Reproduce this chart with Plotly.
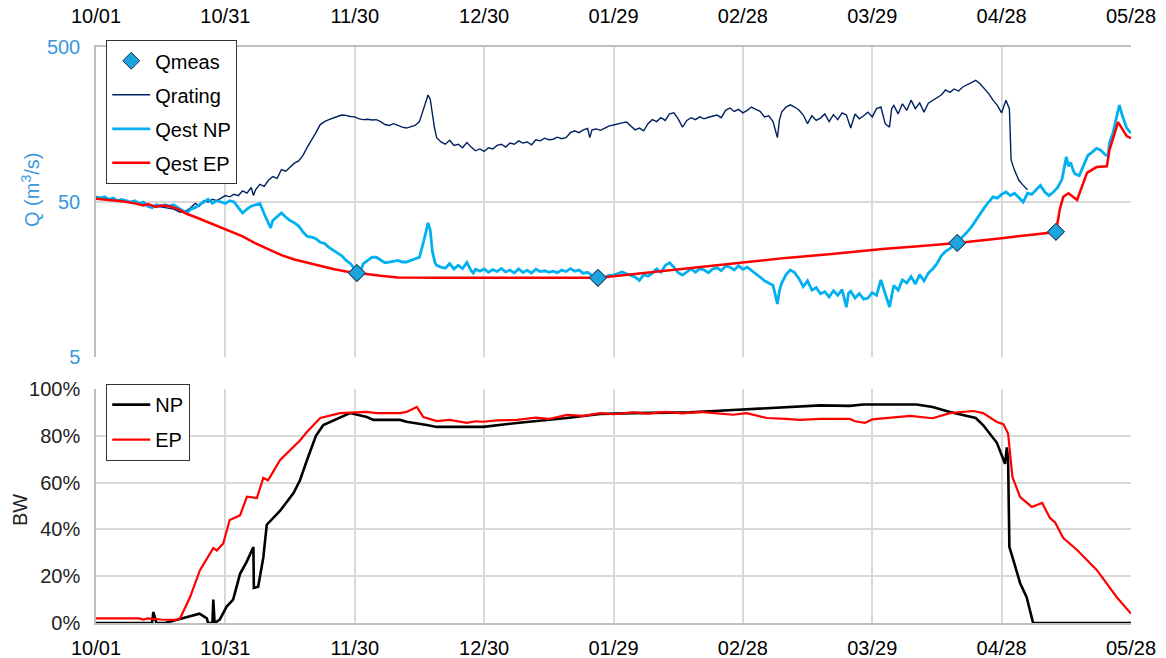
import plotly.graph_objects as go
import pandas as pd

BASE = pd.Timestamp("2011-10-01")

tick_days = [0, 30, 60, 90, 120, 150, 180, 210, 240]
tick_labels = ["10/01", "10/31", "11/30", "12/30", "01/29", "02/28", "03/29", "04/28", "05/28"]

# ---- Top panel: discharge (m3/s), day offsets from 10/01 ----
qrating_days = [0, 2, 4, 6, 8, 10, 12, 14, 16, 18, 19.5, 21, 22, 23, 24, 25, 26, 27, 28, 29, 30, 31, 32, 33, 34, 35, 36, 36.5, 37, 38, 39, 40, 41, 42, 43, 44, 45, 46, 47, 48, 49, 50, 51, 52, 53, 54, 55, 56, 57, 58, 59, 60, 61, 62, 63, 64, 65, 66, 67, 68, 69, 70, 71, 72, 73, 74, 75, 76, 77, 77.5, 78, 78.5, 79, 80, 81, 82, 83, 84, 85, 86, 87, 88, 89, 90, 91, 92, 93, 94, 95, 96, 97, 98, 99, 100, 101, 102, 103, 104, 105, 106, 107, 108, 109, 110, 111, 112, 113, 114, 114.5, 115, 116, 117, 118, 119, 120, 121, 122, 123, 124, 125, 126, 127, 128, 129, 130, 131, 132, 133, 134, 135, 136, 137, 138, 139, 140, 141, 142, 143, 144, 145, 146, 147, 148, 149, 150, 151, 152, 153, 154, 155, 156, 157, 158, 158.5, 159, 160, 161, 162, 163, 164, 165, 166, 167, 168, 169, 170, 171, 172, 173, 174, 175, 176, 177, 178, 179, 180, 181, 182, 183, 184, 184.5, 185, 186, 187, 188, 189, 190, 191, 192, 193, 194, 195, 196, 197, 198, 199, 200, 201, 202, 203, 204, 205, 206, 207, 208, 209, 210, 211, 211.8, 212.2, 213, 214, 215, 216]
qrating_vals = [54, 53, 52, 51, 50, 49, 48, 47, 46, 45, 43, 44, 46, 49, 47, 51, 50, 52, 51, 53, 55, 54, 56, 55, 59, 57, 62, 55, 60, 65, 63, 69, 73, 71, 81, 79, 84, 89, 92, 100, 113, 125, 140, 158, 165, 170, 175, 178, 182, 181, 178, 177, 172, 170, 171, 169, 170, 165, 158, 156, 160, 155, 152, 150, 153, 156, 165, 200, 245, 230, 180, 150, 130, 122, 118, 125, 116, 118, 112, 121, 113, 107, 110, 106, 112, 110, 116, 118, 113, 120, 118, 124, 120, 122, 117, 126, 124, 129, 126, 127, 131, 128, 130, 140, 144, 140, 146, 149, 130, 146, 148, 145, 150, 155, 157, 160, 162, 164, 155, 146, 150, 144, 160, 170, 165, 175, 168, 185, 188, 172, 152, 168, 175, 170, 177, 172, 176, 180, 182, 175, 195, 202, 192, 198, 188, 195, 205, 198, 192, 177, 180, 165, 130, 170, 190, 205, 212, 205, 196, 182, 160, 180, 168, 174, 185, 165, 183, 170, 188, 182, 150, 185, 172, 180, 190, 177, 200, 205, 160, 152, 200, 210, 185, 215, 195, 227, 200, 218, 190, 217, 225, 235, 245, 264, 255, 268, 260, 276, 285, 292, 305, 290, 270, 250, 227, 210, 188, 227, 200, 93, 80, 69, 64, 60]

qnp_days = [0, 1, 2, 3, 4, 5, 6, 7, 8, 9, 10, 11, 12, 13, 14, 15, 16, 17, 18, 19, 20, 21, 22, 23, 24, 25, 26, 27, 28, 29, 30, 31, 32, 33, 34, 35, 36, 37, 38, 39, 40, 40.5, 41, 42, 43, 44, 45, 46, 47, 48, 49, 50, 51, 52, 53, 54, 55, 56, 57, 58, 59, 60, 60.7, 61.5, 62, 63, 64, 65, 66, 67, 68, 69, 70, 71, 72, 73, 74, 75, 76, 77, 77.5, 78, 78.6, 79, 80, 81, 82, 83, 84, 85, 86, 87, 87.5, 88, 89, 90, 91, 92, 93, 94, 95, 96, 97, 98, 99, 100, 101, 102, 103, 104, 105, 106, 107, 108, 109, 110, 111, 112, 113, 114, 115, 116.4, 117, 118, 119, 120, 121, 122, 123, 124, 125, 126, 127, 128, 129, 130, 131, 132, 133, 134, 135, 136, 137, 138, 139, 140, 141, 142, 143, 144, 145, 146, 147, 148, 149, 150, 151, 152, 153, 154, 155, 156, 157, 158, 158.5, 159, 160, 161, 162, 163, 164, 165, 166, 167, 168, 169, 170, 171, 172, 173, 174, 174.5, 175, 176, 177, 178, 179, 180, 181, 182, 183, 184, 185, 186, 187, 188, 189, 190, 191, 192, 193, 194, 195, 196, 197, 198, 199, 200, 201, 202, 203, 204, 205, 206, 207, 208, 209, 210, 211, 212, 213, 214, 215, 216, 217, 218, 219, 220, 221, 222, 223, 224, 225, 225.5, 226, 226.6, 227, 228, 229, 230, 231, 232, 233, 234, 234.7, 235, 235.8, 236.5, 237.3, 238, 238.6, 239, 240]
qnp_vals = [54, 53, 54, 52, 53, 51, 52, 51, 50, 51, 49, 50, 47, 46, 48, 47, 48, 47, 48, 46, 44, 42.5, 45, 46, 48, 50, 52, 49, 51, 50, 49, 51, 50, 46, 42.5, 45, 47, 48, 49, 42, 37, 34, 38, 40, 42.5, 40, 38, 36.7, 35, 32, 30, 29.7, 29, 27.5, 27, 25.5, 24.5, 23.5, 22.5, 21, 20, 18.5, 17.4, 18.5, 20, 21, 22, 22, 21, 20.3, 20.5, 20.8, 21, 20.5, 20.5, 21, 21.5, 22, 28, 36.7, 33, 24, 20.3, 19.5, 19, 18.7, 20, 18.5, 19.5, 18.6, 20.4, 18, 17.4, 18.4, 17.9, 18.5, 17.6, 18.3, 17.8, 18.6, 17.7, 18.2, 17.4, 18.5, 17.6, 18.1, 17.4, 18.4, 17.8, 18, 17.6, 17.9, 17.5, 18.2, 17.8, 18.6, 17.9, 18.2, 17.3, 17.6, 16.8, 16.2, 16.5, 16.4, 16.8, 16.9, 17.3, 17.7, 17.2, 16.8, 16.4, 15.6, 17, 16.6, 17.4, 18.5, 17.6, 19.5, 20.3, 19, 17.5, 16.9, 17.8, 18.5, 17.6, 18.6, 18.2, 17.5, 18.5, 18.8, 18, 19.3, 19, 18.2, 19.4, 18.4, 19, 18, 17.2, 16.4, 15.5, 15, 14.5, 11, 13.5, 15, 17, 18.2, 17.5, 16, 14.2, 15.5, 13.5, 14, 12.8, 13.2, 12.2, 13.4, 12.5, 13.6, 10.5, 12.9, 13.3, 12, 12.8, 11.8, 12, 13, 12.5, 15.7, 13, 10.5, 14.5, 13.5, 15.7, 15, 16.5, 14.8, 17, 15.5, 17.4, 18.5, 20, 22.5, 24, 25, 26.5, 28, 30, 32, 34.5, 38, 42, 46, 50, 54, 53, 56, 58, 55, 57, 53, 50, 57, 56, 60, 64, 58, 55, 58, 62, 70, 98, 85, 90, 80, 76, 74, 85, 100, 105, 111, 108, 101, 99, 120, 139, 170, 211, 180, 162, 150, 139]

qep_days = [0, 3, 6, 9, 11, 12, 13, 14, 15, 17, 19, 21, 23, 26, 30, 34, 37, 40, 43, 46, 49, 52, 55, 58, 60.5, 63, 66, 70, 74, 80, 90, 100, 110, 116.4, 120, 130, 140, 150, 160, 170, 183, 190, 199.7, 210, 222.6, 223.5, 224.3, 225.5, 227.5, 229.8, 232, 234.4, 235, 237, 239, 240]
qep_vals = [52.5, 51.5, 50.5, 49, 47.5, 48.5, 47.5, 46.5, 47.5, 47, 45, 42, 40, 37, 33, 30, 27, 24.8, 22.7, 21.3, 20.3, 19.3, 18.5, 17.8, 17.4, 17.1, 16.7, 16.3, 16.2, 16.2, 16.2, 16.2, 16.2, 16.2, 16.6, 17.8, 19, 20.3, 21.8, 23, 25, 25.8, 27.2, 29.2, 32, 45, 54, 57, 51.6, 77, 84, 85, 108, 164, 133, 129]

qmeas_days = [60.5, 116.4, 199.7, 222.6]
qmeas_vals = [17.4, 16.2, 27.2, 32.1]

# ---- Bottom panel: BW (fraction) ----
bw_np_days = [0, 13, 13.3, 13.8, 14, 16, 17, 19.5, 22, 24, 25.7, 26, 27, 27.2, 27.5, 28.7, 30.3, 31.8, 33.4, 34.9, 36.5, 36.6, 37.6, 38.8, 39.6, 42.7, 45.8, 47.3, 49, 51, 52.7, 55, 58.9, 62.8, 64.3, 70.5, 72, 76.7, 79, 89.8, 97.6, 109.2, 116.9, 124.6, 137.7, 147.7, 163.2, 168, 174.8, 177.9, 190.3, 194, 198, 204, 205.7, 208.9, 210.8, 211.2, 211.5, 211.8, 212.7, 214.3, 215.8, 217, 217.3, 240]
bw_np_vals = [0, 0, 0.047, 0.01, 0, 0, 0.005, 0.02, 0.03, 0.04, 0.02, 0, 0, 0.10, 0, 0.015, 0.07, 0.10, 0.21, 0.26, 0.325, 0.15, 0.155, 0.28, 0.42, 0.48, 0.555, 0.61, 0.70, 0.80, 0.846, 0.865, 0.897, 0.88, 0.868, 0.868, 0.86, 0.846, 0.838, 0.838, 0.855, 0.876, 0.893, 0.897, 0.90, 0.91, 0.927, 0.93, 0.928, 0.934, 0.934, 0.923, 0.902, 0.876, 0.846, 0.77, 0.68, 0.75, 0.70, 0.325, 0.27, 0.17, 0.11, 0.026, 0, 0]

bw_ep_days = [0, 10, 11, 12, 15, 18.5, 19.5, 21.8, 24.1, 27.2, 28, 29.5, 31, 33.4, 35, 37.3, 38.8, 39.9, 42.7, 47.3, 48.9, 52, 56.6, 62.8, 65, 70.5, 72, 74.4, 75.9, 79, 82, 84, 86, 88, 89.8, 93, 97.6, 102, 105, 109.2, 113, 116.9, 120, 124.5, 128, 132, 136, 140, 144, 147.7, 150.9, 155.6, 160, 163.2, 168, 174.8, 176, 178.3, 180, 188.8, 194, 198, 203.4, 205.7, 208.9, 210.4, 211.5, 212, 212.5, 214.3, 217, 219.4, 221.2, 222.4, 224.3, 227.5, 232.1, 236.7, 240]
bw_ep_vals = [0.02, 0.02, 0.015, 0.02, 0.015, 0.013, 0.02, 0.11, 0.226, 0.32, 0.31, 0.34, 0.44, 0.46, 0.54, 0.534, 0.62, 0.61, 0.697, 0.78, 0.816, 0.876, 0.897, 0.902, 0.897, 0.897, 0.902, 0.923, 0.88, 0.863, 0.868, 0.86, 0.855, 0.862, 0.86, 0.866, 0.868, 0.878, 0.872, 0.889, 0.885, 0.897, 0.892, 0.90, 0.895, 0.902, 0.896, 0.902, 0.897, 0.89, 0.897, 0.876, 0.872, 0.868, 0.872, 0.872, 0.862, 0.855, 0.87, 0.885, 0.875, 0.897, 0.906, 0.897, 0.859, 0.85, 0.81, 0.71, 0.624, 0.538, 0.496, 0.513, 0.449, 0.43, 0.363, 0.312, 0.226, 0.11, 0.04]


def to_dates(days):
    return [BASE + pd.Timedelta(days=d) for d in days]


FONT = "Liberation Sans, Arial, sans-serif"
FS = 20
GRID = "#D9D9D9"
AXIS = "#BFBFBF"
BLUE_LABEL = "#3A98DC"
MEAS_MARKER = dict(symbol="diamond", size=13, color="#1CA4DE", line=dict(color="#1F2F4F", width=1))

fig = go.Figure()

fig.add_trace(go.Scatter(
    x=to_dates(qmeas_days), y=qmeas_vals, name="Qmeas", mode="markers", marker=MEAS_MARKER,
    xaxis="x", yaxis="y", legend="legend", legendgroup="a"))
fig.add_trace(go.Scatter(
    x=to_dates(qrating_days), y=qrating_vals, name="Qrating", mode="lines",
    line=dict(color="#002060", width=1.4), xaxis="x", yaxis="y", legend="legend", legendgroup="b"))
fig.add_trace(go.Scatter(
    x=to_dates(qnp_days), y=qnp_vals, name="Qest NP", mode="lines",
    line=dict(color="#00B0F0", width=2.8), xaxis="x", yaxis="y", legend="legend", legendgroup="c"))
fig.add_trace(go.Scatter(
    x=to_dates(qep_days), y=qep_vals, name="Qest EP", mode="lines",
    line=dict(color="#FF0000", width=2.5), xaxis="x", yaxis="y", legend="legend", legendgroup="d"))
# measurement markers drawn again on top of the lines
fig.add_trace(go.Scatter(
    x=to_dates(qmeas_days), y=qmeas_vals, name="Qmeas", mode="markers", showlegend=False,
    marker=MEAS_MARKER, xaxis="x", yaxis="y"))

fig.add_trace(go.Scatter(
    x=to_dates(bw_np_days), y=bw_np_vals, name="NP", mode="lines",
    line=dict(color="#000000", width=2.6), xaxis="x2", yaxis="y2", legend="legend2", legendgroup="e"))
fig.add_trace(go.Scatter(
    x=to_dates(bw_ep_days), y=bw_ep_vals, name="EP", mode="lines",
    line=dict(color="#FF0000", width=2.2), xaxis="x2", yaxis="y2", legend="legend2", legendgroup="f"))

xr = [BASE, BASE + pd.Timedelta(days=240)]
tickv = to_dates(tick_days)

common_x = dict(range=xr, tickvals=tickv, ticktext=tick_labels, showgrid=True, gridcolor=GRID,
                gridwidth=1.5, zeroline=False, ticks="", showline=True, linecolor=AXIS, linewidth=1.5,
                automargin=False, tickfont=dict(family=FONT, size=FS, color="#000000"))

fig.update_layout(
    width=1166, height=658,
    margin=dict(l=96, r=35, t=47, b=35, autoexpand=False),
    paper_bgcolor="white", plot_bgcolor="white",
    font=dict(family=FONT, size=FS, color="#000000"),
    xaxis=dict(common_x, domain=[0, 1], anchor="y", side="top", ticklabelstandoff=14),
    yaxis=dict(type="log", domain=[0.4618, 1.0], range=[0.69897, 2.69897], tickvals=[5, 50, 500],
               ticktext=["5", "50", "500"], showgrid=True, gridcolor=GRID, gridwidth=1.5, zeroline=False,
               showline=True, linecolor=AXIS, linewidth=1.5, ticks="", automargin=False,
               ticklabelstandoff=10,
               tickfont=dict(family=FONT, size=FS, color=BLUE_LABEL),
               anchor="x"),
    xaxis2=dict(common_x, domain=[0, 1], anchor="y2", side="bottom", ticklabelstandoff=6),
    yaxis2=dict(domain=[0, 0.40625], range=[0, 1], tickvals=[0, 0.2, 0.4, 0.6, 0.8, 1.0],
                tickformat=".0%", showgrid=True, gridcolor=GRID, gridwidth=1.5, zeroline=False,
                showline=True, linecolor=AXIS, linewidth=1.5, ticks="", automargin=False,
                ticklabelstandoff=10,
                tickfont=dict(family=FONT, size=FS, color="#222222"),
                anchor="x2"),
    legend=dict(x=0.0097, y=1.012, xanchor="left", yanchor="top", bgcolor="white",
                bordercolor="#333333", borderwidth=1.2, font=dict(family=FONT, size=FS),
                traceorder="grouped", tracegroupgap=5, itemwidth=38),
    legend2=dict(x=0.0097, y=0.415, xanchor="left", yanchor="top", bgcolor="white",
                 bordercolor="#333333", borderwidth=1.2, font=dict(family=FONT, size=FS),
                 traceorder="grouped", tracegroupgap=6, itemwidth=38),
    showlegend=True,
    annotations=[
        dict(text="Q (m<sup>3</sup>/s)", xref="paper", yref="paper", x=0, y=0.7517,
             xanchor="center", yanchor="middle", xshift=-66, textangle=-90, showarrow=False,
             font=dict(family=FONT, size=FS, color=BLUE_LABEL)),
        dict(text="BW", xref="paper", yref="paper", x=0, y=0.196,
             xanchor="center", yanchor="middle", xshift=-76, textangle=-90, showarrow=False,
             font=dict(family=FONT, size=FS, color="#222222")),
    ],
)

fig.write_html("out.html", config={"displayModeBar": False},
               post_script="document.body.style.margin='0';")
